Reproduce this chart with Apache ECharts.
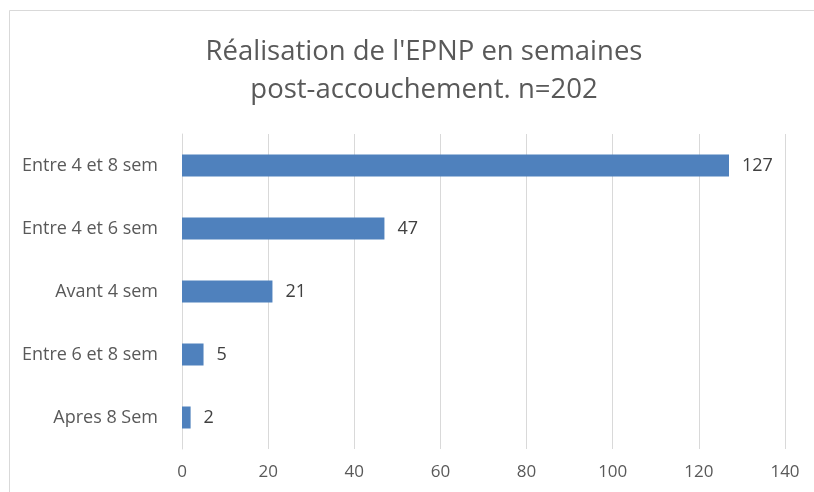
<!DOCTYPE html>
<html><head><meta charset="utf-8">
<script src="https://cdn.jsdelivr.net/npm/echarts@6/dist/echarts.min.js"></script>
<style>html,body{margin:0;padding:0;background:#fff}#c{width:814px;height:492px}</style>
</head><body><div id="c"></div>
<script>
const categories = ['Apres 8 Sem', 'Entre 6 et 8 sem', 'Avant 4 sem', 'Entre 4 et 6 sem', 'Entre 4 et 8 sem'];
const values = [2, 5, 21, 47, 127];
const titleText = "Réalisation de l'EPNP en semaines\npost-accouchement. n=202";
const chart = echarts.init(document.getElementById('c'), null, {renderer: 'canvas'});
const font = "'Open Sans', 'Liberation Sans', sans-serif";
chart.setOption({
  animation: false,
  backgroundColor: '#fff',
  graphic: [{type: 'rect', shape: {x: 9.5, y: 10.5, width: 820, height: 500}, style: {fill: 'none', stroke: '#d9d9d9', lineWidth: 1}}],
  title: {text: titleText, left: 419, textAlign: 'center', top: 28, textStyle: {fontFamily: font, fontSize: 27.5, fontWeight: 'normal', color: '#595959', lineHeight: 38}},
  grid: {left: 182, right: 29, top: 134, bottom: 43, containLabel: false},
  xAxis: {type: 'value', min: 0, max: 140, interval: 20,
    axisLine: {show: false}, axisTick: {show: false},
    splitLine: {show: true, lineStyle: {color: '#d9d9d9', width: 1}},
    axisLabel: {fontFamily: font, fontSize: 17, color: '#595959', margin: 15}},
  yAxis: {type: 'category', data: categories,
    axisLine: {show: true, lineStyle: {color: '#d9d9d9'}}, axisTick: {show: false},
    axisLabel: {fontFamily: font, fontSize: 18, color: '#595959', margin: 24}},
  series: [{type: 'bar', data: values, barWidth: 22, itemStyle: {color: '#4f81bd'},
    label: {show: true, position: 'right', distance: 13, fontFamily: font, fontSize: 18, color: '#404040'}}]
});
</script></body></html>
